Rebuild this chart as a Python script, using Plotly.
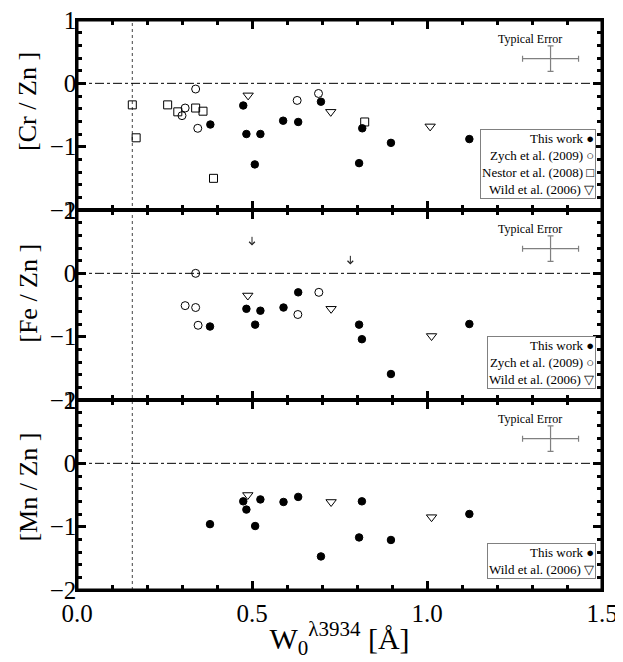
import plotly.graph_objects as go
from plotly.subplots import make_subplots

# --- data ---
# [Cr/Zn]
cr_this_x = [0.381, 0.475, 0.484, 0.508, 0.524, 0.589, 0.632, 0.697, 0.806, 0.815, 0.897, 1.121]
cr_this_y = [-0.65, -0.35, -0.80, -1.28, -0.80, -0.59, -0.61, -0.29, -1.26, -0.71, -0.94, -0.88]
cr_zych_x = [0.300, 0.309, 0.339, 0.345, 0.629, 0.690]
cr_zych_y = [-0.51, -0.39, -0.09, -0.71, -0.27, -0.16]
cr_nestor_x = [0.158, 0.169, 0.259, 0.288, 0.339, 0.360, 0.390, 0.822]
cr_nestor_y = [-0.34, -0.86, -0.34, -0.45, -0.39, -0.44, -1.50, -0.61]
cr_wild_x = [0.489, 0.725, 1.009]
cr_wild_y = [-0.19, -0.45, -0.68]

# [Fe/Zn]
fe_this_x = [0.380, 0.484, 0.509, 0.524, 0.590, 0.632, 0.806, 0.814, 0.897, 1.121]
fe_this_y = [-0.84, -0.56, -0.81, -0.59, -0.54, -0.30, -0.81, -1.04, -1.59, -0.80]
fe_limit_x = [0.50, 0.781]
fe_limit_y = [0.52, 0.22]
fe_zych_x = [0.309, 0.339, 0.339, 0.346, 0.631, 0.691]
fe_zych_y = [-0.51, 0.0, -0.54, -0.82, -0.65, -0.30]
fe_wild_x = [0.488, 0.726, 1.013]
fe_wild_y = [-0.35, -0.56, -0.99]

# [Mn/Zn]
mn_this_x = [0.380, 0.475, 0.484, 0.509, 0.524, 0.590, 0.632, 0.697, 0.806, 0.814, 0.897, 1.121]
mn_this_y = [-0.96, -0.60, -0.73, -0.99, -0.57, -0.61, -0.53, -1.47, -1.17, -0.60, -1.21, -0.80]
mn_wild_x = [0.488, 0.726, 1.013]
mn_wild_y = [-0.50, -0.61, -0.85]

# typical error bar (same in every panel)
err_x = [1.353]
err_y = [0.39]
err_dx = [0.08]
err_dy = [0.20]

cut_x = 0.158  # dotted vertical line

y_titles = ["[Cr / Zn ]", "[Fe / Zn ]", "[Mn / Zn ]"]
y_title_pos = [0.57, 0.56, 0.54]
legend_texts = [
    "This work ●<br>Zych et al. (2009) ○<br>Nestor et al. (2008) □<br>Wild et al. (2006) ▽",
    "This work ●<br>Zych et al. (2009) ○<br>Wild et al. (2006) ▽",
    "This work ●<br>Wild et al. (2006) ▽",
]

FONT = "Liberation Serif, Times New Roman, serif"
GREY = "#808080"

fig = make_subplots(rows=3, cols=1, shared_xaxes=True, vertical_spacing=0)


def add_pts(x, y, row, symbol, size=7.5):
    fig.add_trace(
        go.Scatter(
            x=x,
            y=y,
            mode="markers",
            marker=dict(symbol=symbol, size=size, color="black",
                        line=dict(color="black", width=1)),
            showlegend=False,
        ),
        row=row,
        col=1,
    )


add_pts(cr_this_x, cr_this_y, 1, "circle")
add_pts(cr_zych_x, cr_zych_y, 1, "circle-open", 8)
add_pts(cr_nestor_x, cr_nestor_y, 1, "square-open", 8)
add_pts(cr_wild_x, cr_wild_y, 1, "triangle-down-open", 9)

add_pts(fe_this_x, fe_this_y, 2, "circle")
add_pts(fe_zych_x, fe_zych_y, 2, "circle-open", 8)
add_pts(fe_wild_x, fe_wild_y, 2, "triangle-down-open", 9)

# upper limits drawn as small down arrows
for lx, ly in zip(fe_limit_x, fe_limit_y):
    fig.add_annotation(
        x=lx, y=ly - 0.08, ax=lx, ay=ly + 0.08,
        xref="x2", yref="y2", axref="x2", ayref="y2",
        text="", showarrow=True, arrowhead=4, arrowsize=1.1,
        arrowwidth=1, arrowcolor="#222222",
    )

add_pts(mn_this_x, mn_this_y, 3, "circle")
add_pts(mn_wild_x, mn_wild_y, 3, "triangle-down-open", 9)

for r in range(1, 4):
    sfx = "" if r == 1 else str(r)
    # typical error
    fig.add_trace(
        go.Scatter(
            x=err_x, y=err_y, mode="markers",
            marker=dict(size=1, color=GREY),
            error_x=dict(type="data", array=err_dx, color=GREY, thickness=1.2, width=3),
            error_y=dict(type="data", array=err_dy, color=GREY, thickness=1.2, width=3),
            showlegend=False,
        ),
        row=r, col=1,
    )
    fig.add_annotation(
        x=err_x[0] - 0.06, y=err_y[0] + 0.31, xref=f"x{sfx}", yref=f"y{sfx}",
        text="Typical Error", showarrow=False,
        font=dict(family=FONT, size=12, color="black"),
    )
    # zero line
    fig.add_hline(y=0, line=dict(color="black", width=1, dash="dashdot"), row=r, col=1)
    # legend box
    fig.add_annotation(
        x=0.989, y=0.06, xref=f"x{sfx} domain", yref=f"y{sfx} domain",
        xanchor="right", yanchor="bottom", align="right",
        text=legend_texts[r - 1], showarrow=False,
        font=dict(family=FONT, size=13, color="black"),
        bordercolor=GREY, borderwidth=1, borderpad=1, bgcolor="white",
    )
    # y title
    fig.add_annotation(
        x=-0.093, y=y_title_pos[r - 1], xref="paper", yref=f"y{sfx} domain",
        xanchor="center", yanchor="middle", textangle=-90,
        text=y_titles[r - 1], showarrow=False,
        font=dict(family=FONT, size=26, color="black"),
    )

fig.add_shape(
    type="line", x0=cut_x, x1=cut_x, y0=0, y1=1, xref="x3", yref="paper",
    line=dict(color="#444444", width=1, dash="dot"), layer="below",
)
# heavier outer frame
fig.add_shape(
    type="rect", x0=0, x1=1, y0=0, y1=1, xref="paper", yref="paper",
    line=dict(color="black", width=3), fillcolor="rgba(0,0,0,0)",
)

axis_common = dict(
    showline=True, linewidth=1.5, linecolor="black", mirror="allticks",
    ticks="inside", ticklen=9, tickwidth=2.5, tickcolor="black",
    showgrid=False, zeroline=False, automargin=False, ticklabeloverflow="allow",
    tickfont=dict(family=FONT, size=25, color="black"),
)
fig.update_xaxes(
    range=[0, 1.5], dtick=0.5, tickformat=".1f",
    minor=dict(ticks="inside", dtick=0.1, ticklen=5, tickwidth=2.5, tickcolor="black"),
    **axis_common,
)
fig.update_yaxes(
    range=[-2, 1], dtick=1, ticklabelstandoff=-6,
    minor=dict(ticks="inside", dtick=0.2, ticklen=5, tickwidth=2.5, tickcolor="black"),
    **axis_common,
)
fig.update_xaxes(
    title=dict(text="W<sub>0</sub><sup>λ3934</sup> [Å]", font=dict(family=FONT, size=30), standoff=2),
    row=3, col=1,
)

fig.update_layout(
    width=615, height=654,
    margin=dict(l=69, r=21, t=12, b=72),
    plot_bgcolor="white", paper_bgcolor="white",
    font=dict(family=FONT, color="black"),
)

fig.write_html("out.html")
